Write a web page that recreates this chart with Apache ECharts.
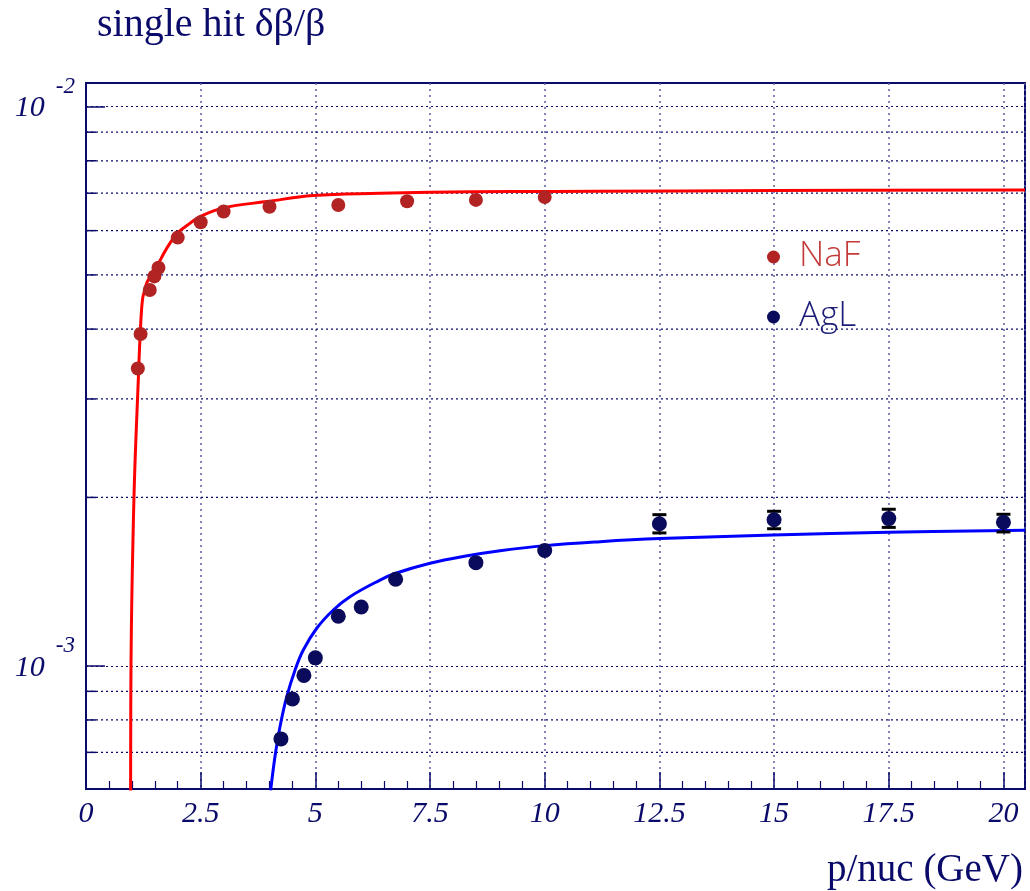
<!DOCTYPE html>
<html>
<head>
<meta charset="utf-8">
<title>single hit δβ/β</title>
<script src="https://cdn.jsdelivr.net/npm/echarts@6/dist/echarts.min.js"></script>
<style>
  html, body { margin: 0; padding: 0; background: #ffffff; }
  #chart { width: 1030px; height: 891px; }
</style>
</head>
<body>
<div id="chart"></div>
<script>
// NaF radiator: measured single-hit velocity resolution
const nafP   = [1.13, 1.19, 1.39, 1.49, 1.58, 2.0, 2.5, 3.0, 4.0, 5.5, 7.0, 8.5, 10.0];
const nafRes = [0.00340, 0.00392, 0.00470, 0.00497, 0.00515, 0.00583, 0.00621,
                0.00649, 0.00662, 0.00667, 0.00677, 0.00681, 0.00689];

// AgL radiator: measured values, with errors on the high-momentum points
const aglP     = [4.25, 4.5, 4.75, 5.0, 5.5, 6.0, 6.75, 8.5, 10.0, 12.5, 15.0, 17.5, 20.0];
const aglRes   = [0.000740, 0.000872, 0.000961, 0.001033, 0.001226, 0.001274, 0.001428,
                  0.001529, 0.001607, 0.001795, 0.001824, 0.001833, 0.001806];
const aglErrLo = [null, null, null, null, null, null, null, null, null,
                  0.001728, 0.001758, 0.001768, 0.001735];
const aglErrHi = [null, null, null, null, null, null, null, null, null,
                  0.001863, 0.001889, 0.001905, 0.001866];

// Fitted resolution curves
const nafFitP   = [0.972, 0.981, 1.046, 1.140, 1.190, 1.232, 1.28, 1.33, 1.417, 1.541, 1.75,
                   1.990, 2.25, 2.485, 2.993, 3.94, 4.955, 6.41, 7.50, 9.31, 11.14, 15.0, 20.47];
const nafFitRes = [0.000590, 0.001002, 0.002004, 0.003245, 0.004050, 0.004520, 0.004700,
                   0.004850, 0.004985, 0.005173, 0.005560, 0.005935, 0.006170, 0.006355,
                   0.006590, 0.006762, 0.006931, 0.007000, 0.007029, 0.007046, 0.007055,
                   0.007075, 0.007096];
const aglFitP   = [4.025, 4.120, 4.229, 4.375, 4.556, 4.737, 5.03, 5.391, 5.755, 6.409,
                   6.736, 7.499, 8.25, 9.026, 10.0, 11.206, 12.5, 14.98, 17.5, 20.47];
const aglFitRes = [0.000598, 0.000688, 0.000778, 0.000880, 0.000982, 0.001067, 0.001167,
                   0.001258, 0.001329, 0.001423, 0.001462, 0.001525, 0.001570, 0.001606,
                   0.001640, 0.001667, 0.001688, 0.001713, 0.001732, 0.001747];

// Axis ranges and the intermediate log grid levels
const xMin = 0, xMax = 20.47, xStep = 2.5;
const yMin = 0.000602, yMax = 0.01102;
const yMinorGrid = [0.0007, 0.0008, 0.0009, 0.002, 0.003, 0.004, 0.005,
                    0.006, 0.007, 0.008, 0.009];

const NAVY = '#0a0a6a';
const SERIF = "'Liberation Serif', 'DejaVu Serif', serif";

const chart = echarts.init(document.getElementById('chart'), null, { renderer: 'canvas' });

const zip = (a, b) => a.map((v, i) => [v, b[i]]);

const errData = [];
aglP.forEach((p, i) => {
  if (aglErrLo[i] !== null) errData.push([p, aglErrLo[i], aglErrHi[i]]);
});

chart.setOption({
  animation: false,
  backgroundColor: '#ffffff',
  title: {
    text: 'single hit δβ/β',
    left: 97,
    top: 5,
    padding: 0,
    textStyle: { fontFamily: SERIF, fontSize: 40, fontWeight: 'normal', color: NAVY }
  },
  legend: {
    orient: 'vertical',
    left: 762,
    top: 233,
    itemWidth: 13,
    itemHeight: 13,
    itemGap: 22,
    icon: 'circle',
    selectedMode: false,
    textStyle: {
      fontFamily: "'DejaVu Sans ExtraLight', 'Open Sans Light', 'Lato Light', 'Open Sans', sans-serif",
      fontWeight: 300,
      fontSize: 35,
      lineHeight: 38,
      padding: [0, 0, 0, 14]
    },
    data: [
      { name: 'NaF', itemStyle: { color: '#b22424', opacity: 1 }, textStyle: { color: '#c43a3a' } },
      { name: 'AgL', itemStyle: { color: '#0b0b5c', opacity: 1 }, textStyle: { color: '#1c1c78' } }
    ]
  },
  grid: {
    left: 86, top: 83, width: 939, height: 706,
    show: true, borderColor: NAVY, borderWidth: 2, backgroundColor: 'transparent'
  },
  xAxis: {
    type: 'value',
    min: xMin, max: xMax, interval: xStep,
    name: 'p/nuc (GeV)',
    nameLocation: 'end',
    nameGap: -2,
    nameTextStyle: {
      fontFamily: SERIF, fontSize: 39, color: NAVY,
      align: 'right', verticalAlign: 'top', padding: [62, 0, 0, 0]
    },
    axisLine: { show: true, lineStyle: { color: NAVY, width: 2 } },
    axisTick: { show: true, inside: true, length: 17, lineStyle: { color: NAVY, width: 1.5 } },
    minorTick: { show: true, splitNumber: 5, length: 8, lineStyle: { color: NAVY, width: 1.2 } },
    axisLabel: {
      margin: 10,
      fontFamily: SERIF, fontStyle: 'italic', fontSize: 30, color: NAVY,
      showMaxLabel: false,
      formatter: v => (Math.abs(v / xStep - Math.round(v / xStep)) < 1e-6 ? String(v) : '')
    },
    splitLine: { show: true, lineStyle: { color: '#5c5ca0', type: [2, 4], width: 1.5 } }
  },
  yAxis: {
    type: 'log',
    logBase: 10,
    min: yMin, max: yMax,
    axisLine: { show: true, lineStyle: { color: NAVY, width: 2 } },
    axisTick: { show: true, inside: true, length: 19, lineStyle: { color: NAVY, width: 1.5 } },
    axisLabel: {
      margin: 11,
      showMinLabel: false, showMaxLabel: false,
      formatter: v => {
        const e = Math.log10(v);
        if (Math.abs(e - Math.round(e)) > 1e-6) return '';
        return '{b|10}{s|' + Math.round(e) + '}';
      },
      rich: {
        b: { fontFamily: SERIF, fontStyle: 'italic', fontSize: 30, color: NAVY,
             padding: [4, 0, 0, 0] },
        s: { fontFamily: SERIF, fontStyle: 'italic', fontSize: 23, color: NAVY,
             padding: [0, 0, 40, 11] }
      }
    },
    splitLine: { show: true, lineStyle: { color: NAVY, type: [2, 3], width: 1.2 } }
  },
  series: [
    {
      // intermediate log grid lines with their short left-hand ticks
      type: 'custom',
      name: 'grid',
      silent: true,
      z: 1,
      data: yMinorGrid.map(v => [xMin, v]),
      renderItem: (params, api) => {
        const p = api.coord([api.value(0), api.value(1)]);
        const cs = params.coordSys;
        return {
          type: 'group',
          children: [
            { type: 'line', shape: { x1: cs.x, y1: p[1], x2: cs.x + cs.width, y2: p[1] },
              style: { stroke: NAVY, lineWidth: 1.2, lineDash: [2, 3] } },
            { type: 'line', shape: { x1: cs.x, y1: p[1], x2: cs.x + 10, y2: p[1] },
              style: { stroke: NAVY, lineWidth: 1.5 } }
          ]
        };
      }
    },
    {
      type: 'line',
      name: 'NaF fit',
      data: zip(nafFitP, nafFitRes),
      smooth: 0.4,
      showSymbol: false,
      clip: true,
      z: 3,
      lineStyle: { color: '#ff0000', width: 3 },
      itemStyle: { color: '#ff0000' }
    },
    {
      type: 'line',
      name: 'AgL fit',
      data: zip(aglFitP, aglFitRes),
      smooth: 0.4,
      showSymbol: false,
      clip: true,
      z: 3,
      lineStyle: { color: '#0000ff', width: 3 },
      itemStyle: { color: '#0000ff' }
    },
    {
      type: 'custom',
      name: 'AgL errors',
      z: 4,
      data: errData,
      encode: { x: 0, y: [1, 2] },
      renderItem: (params, api) => {
        const lo = api.coord([api.value(0), api.value(1)]);
        const hi = api.coord([api.value(0), api.value(2)]);
        const half = 7;
        const st = { stroke: '#000000', lineWidth: 3 };
        return {
          type: 'group',
          children: [
            { type: 'line', shape: { x1: lo[0], y1: lo[1], x2: hi[0], y2: hi[1] },
              style: { stroke: '#000000', lineWidth: 2 } },
            { type: 'line', shape: { x1: lo[0] - half, y1: lo[1], x2: lo[0] + half, y2: lo[1] }, style: st },
            { type: 'line', shape: { x1: hi[0] - half, y1: hi[1], x2: hi[0] + half, y2: hi[1] }, style: st }
          ]
        };
      }
    },
    {
      type: 'scatter',
      name: 'NaF',
      data: zip(nafP, nafRes),
      symbol: 'circle',
      symbolSize: 14,
      z: 5,
      itemStyle: { color: '#b22424', opacity: 1 }
    },
    {
      type: 'scatter',
      name: 'AgL',
      data: zip(aglP, aglRes),
      symbol: 'circle',
      symbolSize: 15,
      z: 5,
      itemStyle: { color: '#0b0b5c', opacity: 1 }
    }
  ]
});
</script>
</body>
</html>
